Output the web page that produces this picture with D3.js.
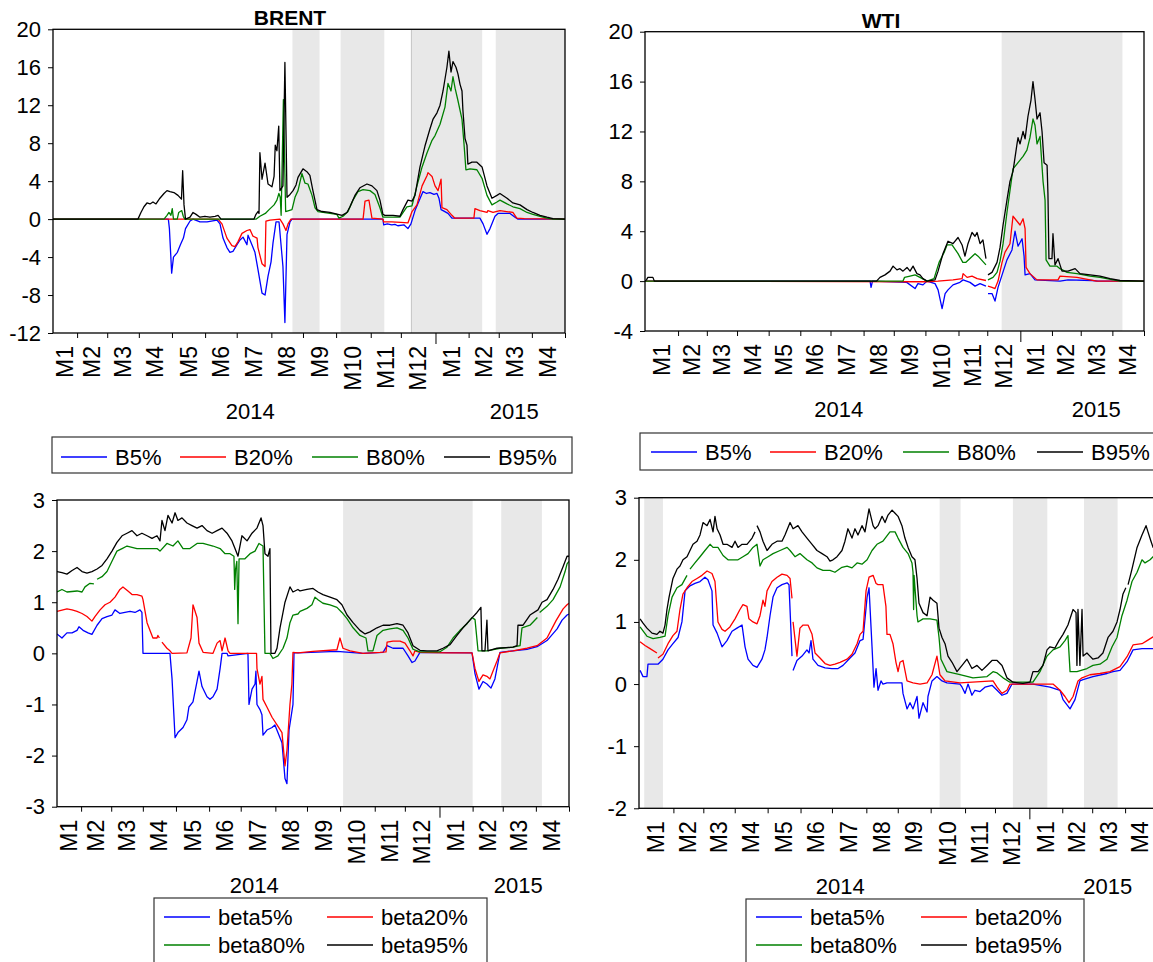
<!DOCTYPE html>
<html>
<head>
<meta charset="utf-8">
<script src="https://cdn.jsdelivr.net/npm/d3@7"></script>
<style>
  body { margin: 0; background: #fff; }
  svg { display: block; font-family: "Liberation Sans", Arial, sans-serif; }
</style>
</head>
<body>
<svg id="chart" width="1153" height="962"></svg>
<script>
// ---------------------------------------------------------------
// Time axis: trading-day index counted from 1 Jan 2014.
// Trading days per month, Jan 2014 .. Apr 2015.
const monthDays = [23, 20, 21, 22, 22, 21, 23, 21, 22, 23, 20, 23, 22, 20, 22, 22];
const monthLabels = ["M1","M2","M3","M4","M5","M6","M7","M8","M9","M10","M11","M12","M1","M2","M3","M4"];
const yearLabels = ["2014", "2015"];

const quantileNames = ["B5%", "B20%", "B80%", "B95%"];
const betaNames = ["beta5%", "beta20%", "beta80%", "beta95%"];
const seriesColors = ["#0000ff", "#ff0000", "#008000", "#000000"];

const brentTopTicks = [20, 16, 12, 8, 4, 0, -4, -8, -12];
const wtiTopTicks = [20, 16, 12, 8, 4, 0, -4];
const brentBetaTicks = [3, 2, 1, 0, -1, -2, -3];
const wtiBetaTicks = [3, 2, 1, 0, -1, -2];

// Shaded regimes, [from day, to day]
const brentTopBands = [[166, 184], [198, 227], [245, 292], [301, 347]];
const wtiTopBands = [[248, 332]];
const brentBetaBands = [[197, 283], [302, 329]];
const wtiBetaBands = [[3.5, 16], [201, 215], [250, 273], [297.5, 320]];

// ---------------- BRENT quantile bounds: [day, value] ----------------
const brentB5 = [[7,0],[83.6,0],[84.3,-1],[85.8,-5.7],[87,-4.0],[89.6,-3.5],[91.6,-2.7],[93.6,-2.0],[95,-1.0],[98,-0.2],[100,0],[104.6,-0.3],[109.3,-0.3],[115.9,-0.1],[117.9,-0.5],[119.9,-2.0],[122.5,-3.0],[124.5,-3.5],[126.5,-3.4],[129.2,-2.7],[131.2,-2.2],[133.2,-1.9],[135.8,-2.7],[136.5,-1.7],[139.1,-2.7],[141.1,-3.5],[143.1,-5.3],[145.8,-7.8],[147.8,-8.0],[149.8,-6.0],[151.8,-4.5],[153.1,-2.5],[155.1,-0.3],[157.1,-0.3],[159.7,-5.0],[161,-10.9],[162.4,-1.6],[164.4,-0.3],[165.7,0],[226.1,0],[226.6,-0.6],[229,-0.5],[232,-0.6],[234,-0.55],[236,-0.7],[240,-0.6],[242.7,-1.0],[244.7,-0.5],[247.4,0.9],[252.7,2.9],[255,2.7],[257.3,2.8],[260,2.6],[262,2.7],[263.3,2.2],[264.7,1.0],[266,0.9],[269.3,0.6],[271.9,0.1],[290.5,0.1],[292.6,-0.5],[295.2,-1.6],[297.2,-1.0],[300.5,0.3],[302.5,0.6],[310.5,0.6],[313.8,0.2],[315.8,0],[347,0]];
const brentB20 = [[7,0],[116.6,0],[119.2,-0.5],[122.5,-2.0],[125.8,-2.8],[127.8,-2.9],[129.8,-2.4],[132.5,-1.5],[135.8,-1.2],[137.8,-1.1],[139.8,-1.8],[142.5,-2.0],[143.1,-3.0],[145.8,-4.7],[147.8,-5.0],[148.4,-0.2],[151.1,-0.1],[157.7,0],[159.7,-0.5],[161.7,-1.2],[163.1,-0.5],[165,0],[212.9,0],[214.2,1.9],[216.8,2.0],[218.8,0.1],[226.1,0],[226.6,-0.3],[232,-0.3],[238,-0.35],[242.7,-0.4],[245.4,0.8],[248.7,1.5],[252.1,3.5],[255.4,4.6],[256,4.9],[258.7,4.5],[260.7,3.5],[262.7,3.0],[264.7,4.2],[265.3,1.2],[268.6,1.0],[271.9,0.4],[273.9,0.1],[286.5,0.1],[287.2,1.1],[290.5,0.9],[295.2,0.7],[295.8,0.9],[299.2,0.7],[303.8,0.9],[312.4,0.7],[315,0.1],[320,0.05],[347,0]];
const brentB80 = [[7,0],[80.7,0],[82.7,0.4],[84,0.7],[85.3,0.4],[86.2,1.1],[87,0],[89.5,0],[90.5,0.7],[92.5,0.9],[93.5,0.3],[94.5,0],[142,0],[144.4,0.3],[148,0.6],[150.5,1.0],[153.8,1.5],[155.7,2.0],[157,2.7],[157.9,2.3],[158.5,0.4],[160,12.6],[161.5,0.8],[165.7,1.0],[167.7,2.3],[169.7,3.0],[172.3,4.8],[174.3,3.8],[176.3,3.7],[179,2.5],[181,1.2],[183,0.8],[190.9,0.6],[195.5,0.5],[196.9,0.1],[199.6,0.3],[202.9,0.8],[206.2,2.0],[209.5,2.9],[212.9,3.1],[217.5,3.0],[220.8,2.6],[224.1,1.2],[226.1,0.2],[237.4,0.2],[242,1.3],[245.4,1.4],[248.7,3.5],[252.1,5.5],[255.4,7.0],[258.7,8.3],[260.7,8.8],[264,10.0],[267.3,11.8],[269.3,14.3],[271.3,13.5],[272.6,15.0],[274,13.8],[275.9,12.5],[278.6,10.5],[279.9,8.0],[281.2,5.2],[283.9,5.3],[288.5,5.2],[291.9,4.3],[295.2,2.5],[298.5,1.5],[301.8,1.8],[303.8,2.0],[308.5,1.6],[312.4,1.3],[317.1,1.1],[321.8,0.7],[325.7,0.5],[330.4,0.3],[335,0.1],[339,0],[347,0]];
const brentB95 = [[7,0],[63.4,0],[65.4,0.7],[67.4,1.3],[69.4,1.7],[71.4,1.6],[73.4,1.8],[75.4,1.6],[78,2.2],[80.7,2.7],[82.7,3.0],[84.7,2.9],[87.3,2.8],[90,2.5],[92.3,2.1],[93.1,5.1],[94,1.5],[95,0],[98,0.2],[100,0.7],[102,0.5],[104.6,0.2],[107.9,0.3],[111.2,0.2],[114.6,0.3],[116.6,0.4],[118.6,0],[140.5,0],[141.8,0.5],[143.1,0.8],[143.8,0.6],[144.4,7.0],[145.8,4.2],[147.8,5.9],[149.8,3.7],[152.4,3.4],[153.8,4.5],[154.6,7.8],[155.7,7.2],[156.9,9.8],[157.7,3.0],[159.7,3.5],[161,16.5],[162.4,2.3],[164.4,2.6],[166.4,3.0],[168.4,3.6],[169.7,4.4],[173,5.3],[175.6,5.0],[177.6,4.6],[179.6,3.0],[182.3,1.0],[185.6,0.8],[190.9,0.7],[196.2,0.5],[198.9,0.4],[202.2,0.7],[204.2,1.3],[207.5,2.5],[210.8,3.3],[215.5,3.7],[218.8,3.5],[222.1,3.0],[224.1,2.0],[226.1,0.5],[227.4,0.4],[232.8,0.4],[237.4,0.3],[239.4,1.0],[242.7,2.0],[245.4,1.9],[247.4,2.5],[250.7,5.5],[254,7.7],[257.3,9.5],[259.3,10.5],[262,11.2],[264,12],[266,13.5],[268.6,16],[269.9,17.7],[271.3,15.5],[272.6,16.6],[274.6,16.0],[275.9,15.3],[277.3,14.2],[278.6,13.5],[279.2,11.5],[280.6,8.5],[281.9,7.8],[282.5,5.8],[285.2,6.0],[288.5,6.0],[291.9,5.5],[295.2,3.5],[298.5,2.2],[301.8,2.5],[303.8,2.7],[308.5,2.2],[312.4,1.7],[317.1,1.5],[321.8,1.0],[325.7,0.7],[330.4,0.4],[335,0.2],[339,0.05],[347,0]];

// ---------------- WTI quantile bounds ----------------
const wtiB5 = [[0,0],[156.5,0],[157.2,-0.5],[158.2,0],[182,-0.1],[187.8,-0.6],[189.8,-0.2],[193.3,-0.3],[196.1,0],[201.7,-0.2],[203.8,-0.7],[206.6,-2.2],[208.7,-1.0],[210.7,-0.7],[214.2,-0.3],[219,-0.1],[221.2,0.1],[226,-0.1],[229.5,-0.4],[233,-0.2],[237.1,-0.4],null,[238.5,-1.0],[241.3,-1.0],[243.4,-1.6],[245.5,-0.5],[248.3,0.5],[251.7,1.7],[255.2,2.5],[257.3,4.0],[259.4,2.8],[262.2,3.4],[263.6,2.0],[264.3,0.5],[267.7,0.6],[271.2,0.1],[288.6,0],[294.2,0.1],[310.9,0.05],[315,0],[347,0]];
const wtiB20 = [[0,0],[196,-0.05],[203.7,0],[214.2,0.1],[220.5,0.2],[221.2,0.6],[224,0.3],[227.4,0.4],[231,0.2],[237.1,0.05],null,[238.5,-0.4],[241.3,-0.5],[243.4,-0.6],[245.5,0],[248.3,1.5],[250.3,2.3],[253.8,3.0],[255.9,5.2],[258.7,4.8],[260.8,4.5],[262.9,5.0],[264.3,4.2],[265,1.1],[267.7,0.6],[272.6,0.1],[287.2,0.1],[288.6,0.4],[300.4,0.3],[309.5,0.1],[314,0],[347,0]];
const wtiB80 = [[0,0],[179.4,0],[180.5,0.3],[184.3,0.4],[187.8,0.5],[191.2,0.3],[196.1,0],[201,0.2],[204.5,1.5],[208,2.3],[210,2.9],[213.5,2.9],[217.7,2.2],[221,1.5],[223,1.5],[226.7,1.9],[229.5,2.2],[231.6,2.0],[237.1,1.3],null,[238.5,0.1],[242,0.3],[244.8,0.7],[246.9,1.6],[249,3.0],[251.7,5.5],[255.9,9.0],[259.4,9.5],[262.9,10.0],[265.6,10.5],[267.7,11.5],[269.8,13.0],[271.2,12.5],[272.6,11.0],[274.7,11.6],[276.8,8.0],[278.2,6.5],[278.9,1.7],[281.6,1.2],[286.5,1.2],[288.6,1.0],[293.5,0.7],[300.4,0.6],[309.5,0.4],[316.4,0.3],[325.5,0.1],[330.3,0],[347,0]];
const wtiB95 = [[0,0],[1,0.1],[2,0.3],[5.5,0.3],[6.5,0],[161,0],[163.4,0.3],[166.9,0.5],[170.4,0.8],[172.5,1.2],[175.2,0.9],[177.3,1.0],[179.4,0.8],[182.2,1.1],[184.3,0.8],[186.4,1.2],[189.1,0.6],[191.2,0.5],[193.3,0.2],[196.1,0],[201.7,0.1],[203.8,0.8],[207.2,2.2],[210.7,3.2],[214.2,3.0],[217.7,3.5],[220.5,2.9],[222.5,2.0],[224.6,3.0],[227.4,3.9],[229.5,3.6],[230.9,3.9],[233,3.0],[235,3.3],[237.1,1.8],null,[238.5,0.5],[241.3,0.7],[244.8,1.5],[246.9,2.7],[249,4.5],[251.7,6.5],[253.8,8.0],[255.9,8.8],[258.7,11.0],[259.4,11.5],[260.8,11.0],[262.9,12.0],[264.3,11.4],[266.3,13.2],[268.4,14.5],[269.8,16.0],[271.2,14.6],[272.6,13.0],[274.7,13.5],[276.1,12.0],[277.5,9.5],[279.6,9.3],[280.2,7.0],[280.9,1.8],[283,1.8],[283.7,3.8],[285.1,1.3],[287.2,1.8],[290,0.8],[294.2,0.8],[299.1,1.0],[302.5,0.6],[309.5,0.5],[316.4,0.4],[323.4,0.2],[330.3,0.05],[347,0]];

// ---------------- BRENT beta quantiles ----------------
const brentBeta5 = [[7,0.38],[10.3,0.3],[13.6,0.4],[17,0.4],[20.3,0.45],[21.6,0.52],[24.3,0.45],[27.6,0.4],[30.2,0.37],[33.6,0.55],[36.9,0.68],[40.2,0.72],[43.5,0.75],[45.5,0.85],[48.8,0.78],[52.1,0.8],[55.5,0.82],[58.8,0.8],[62.1,0.85],[63.4,0.8],[64.1,0],[82,0],[83.4,-0.5],[85.4,-1.65],[87.3,-1.55],[90.7,-1.45],[93.3,-1.3],[94.6,-1.05],[97.3,-0.95],[100,-0.55],[101.3,-0.35],[103.3,-0.65],[106.6,-0.85],[108.6,-0.9],[110.6,-0.85],[113.3,-0.7],[115.3,-0.3],[116.6,0],[119.9,0],[120.6,-0.05],[133.8,0],[134.5,-1.0],[136.5,-0.7],[138.5,-0.6],[139.1,-0.35],[139.8,-1.0],[141.8,-1.1],[143.1,-1.2],[143.8,-1.6],[146.4,-1.5],[149.8,-1.45],[151.7,-1.4],[153.7,-1.55],[156.4,-1.75],[158.4,-2.45],[159.7,-2.55],[161.1,-1.5],[163.7,-1.0],[164.4,0.01],[167,0.01],[192.9,0.04],[210,0.0],[223.5,0.02],[226.2,0.15],[230.1,0.1],[236.8,0.1],[240.1,-0.05],[242.8,-0.18],[244.7,-0.15],[248,0.02],[282.6,0.01],[284.6,-0.4],[287.2,-0.7],[289.9,-0.55],[292.5,-0.6],[295.2,-0.68],[297.8,-0.5],[301.2,0.02],[309.8,0.05],[319.1,0.08],[325.8,0.13],[332.4,0.25],[339.1,0.48],[342.4,0.65],[345.7,0.75],[347,0.77]];
const brentBeta20 = [[7,0.82],[13.6,0.87],[17,0.85],[20.3,0.82],[23.6,0.78],[26.9,0.72],[30.2,0.63],[32.2,0.72],[35.6,0.85],[38.9,0.95],[42.2,1.0],[45.5,1.1],[48.8,1.25],[50.8,1.3],[54.1,1.22],[56.8,1.15],[60.1,1.15],[63.4,1.12],[64.1,1.05],[66.8,0.6],[68.7,0.45],[70.7,0.3],[73.4,0.3],[74,0.35],[75,0.3],null,[76.7,0.22],[80,0.1],[82,0.05],[83.4,0],[93.3,0.01],[96,0.3],[97.3,0.95],[100,0.7],[101.3,0.2],[104,0.02],[110.6,0],[113.3,0.2],[115.3,0.25],[116.6,0.05],[118.6,0.3],[120.6,0.05],[121.9,0],[139.5,0],[139.8,-0.3],[141.8,-0.6],[143.1,-0.45],[143.8,-0.9],[146.4,-1.05],[149.8,-1.25],[153.1,-1.4],[156.4,-1.55],[158.4,-2.2],[159.7,-1.9],[161.7,-1.0],[163,-0.6],[163.7,0.02],[167,0.01],[177,0.04],[192.9,0.07],[194.9,0.3],[196.9,0.1],[201.6,0.05],[210.2,0],[221.5,0.02],[225.5,0.03],[226.2,0.22],[230.1,0.24],[234.8,0.24],[238.1,0.2],[241.4,0.05],[243.4,-0.05],[244.7,0.05],[248,0.02],[266,0.01],[282.6,0.01],[284.6,-0.3],[287.2,-0.55],[289.9,-0.42],[292.5,-0.45],[294.5,-0.5],[296.5,-0.35],[299.2,-0.15],[301.2,0.01],[309.8,0.05],[319.1,0.1],[325.8,0.15],[332.4,0.3],[338.4,0.64],[343.1,0.87],[345.7,0.95],[347,0.98]];
const brentBeta80 = [[7,1.2],[10.3,1.25],[13.6,1.2],[20.3,1.22],[23.6,1.2],[25.6,1.3],[28.9,1.37],[31.5,1.36],null,[33.6,1.45],[36.9,1.5],[40.2,1.6],[43.5,1.8],[46.8,2.0],[50.2,2.05],[53.5,2.1],[60.1,2.05],[66.8,2.05],[73.4,2.05],[75.4,2.0],[80,2.15],[84,2.1],[87.3,2.2],[90.7,2.05],[95.3,2.05],[100,2.15],[104,2.15],[110.6,2.1],[115.3,2.05],[118.6,1.95],[121.9,1.95],[124.5,1.9],[125,1.25],[125.6,1.65],[126.4,1.8],[127.2,0.58],[127.9,1.85],[131.8,1.85],[135.2,1.95],[138.5,2.0],[141.1,2.15],[143.8,2.1],[145.1,0],[148.4,0],[150.4,-0.1],[153.7,-0.05],[157.1,0.1],[159.7,0.3],[161.7,0.6],[163.7,0.75],[167,0.77],[168.4,0.82],[173,0.88],[176.3,0.95],[178.3,1.1],[180.3,1.05],[183.6,0.98],[188.3,0.95],[192.9,0.9],[196.2,0.8],[199.6,0.68],[203.6,0.5],[208.2,0.35],[212.2,0.3],[213.5,0.05],[216.8,0.05],[219.5,0.35],[223.5,0.45],[228.1,0.48],[232.8,0.5],[236.8,0.45],[240.1,0.3],[243.4,0.08],[248,0.03],[261.3,0.03],[266,0.12],[270,0.3],[274.6,0.45],[279.3,0.58],[282.6,0.7],[284.6,0.66],[286.6,0.05],[292.5,0.05],[301.2,0.1],[309.8,0.12],[314.5,0.15],[315.8,0.5],[321.1,0.55],[326,0.7],null,[327.5,0.8],[332.4,0.92],[336.4,1.05],[341.1,1.3],[344.4,1.6],[345.7,1.75],[347,1.8]];
const brentBeta95 = [[7,1.6],[10.3,1.58],[13.6,1.55],[17,1.62],[20.3,1.68],[23.6,1.6],[26.9,1.57],[30.2,1.6],[33.6,1.65],[36.9,1.72],[40.2,1.85],[43.5,2.0],[46.8,2.17],[50.2,2.3],[53.5,2.35],[56.8,2.4],[60.1,2.3],[63.4,2.35],[66.8,2.3],[70.1,2.25],[73.4,2.3],[75.4,2.2],[76.7,2.6],[78.7,2.4],[80.7,2.7],[83.4,2.55],[85.4,2.75],[87.3,2.6],[90,2.65],[93.3,2.55],[96.6,2.5],[100,2.45],[103.3,2.5],[106.6,2.4],[110,2.35],[113.3,2.4],[116.6,2.45],[119.9,2.35],[123.2,2.2],[125.2,2.05],[127.2,1.9],[129.8,2.3],[133.2,2.2],[136.5,2.35],[139.8,2.45],[142.5,2.65],[143.8,2.5],[145.1,1.95],[147.1,1.9],[148.4,2.05],[149.1,0],[151.7,0],[153.1,0.1],[155.1,0.5],[158.4,1.0],[161.7,1.3],[163.7,1.2],[167,1.25],[168.4,1.22],[173,1.25],[177,1.27],[180.3,1.2],[183.6,1.15],[188.3,1.1],[192.9,1.05],[196.2,0.95],[199.6,0.75],[203.6,0.6],[208.2,0.45],[211.6,0.38],[214.9,0.42],[219.5,0.5],[223.5,0.55],[228.1,0.55],[232.8,0.58],[236.8,0.55],[240.1,0.4],[243.4,0.15],[248,0.06],[252.7,0.05],[259.3,0.05],[263.3,0.1],[268,0.17],[272.6,0.35],[276.6,0.5],[281.2,0.65],[285.9,0.8],[288.5,0.9],[289.2,0.05],[291.2,0.05],[292.5,0.65],[293.2,0.05],[299.2,0.1],[309.8,0.12],[312.5,0.15],[313.1,0.55],[316.5,0.55],[321.1,0.75],[326.4,0.85],[329.1,1.0],[332.4,1.05],[336.4,1.25],[339.7,1.45],[343.1,1.7],[345.7,1.9],[347,1.9]];

// ---------------- WTI beta quantiles ----------------
const wtiBeta5 = [[0.7,0.22],[2.7,0.12],[5.3,0.12],[6,0.32],[9.4,0.32],[12.7,0.32],[16,0.4],[19.4,0.55],[22.7,0.65],[26.1,0.75],[28.7,1.0],[30.8,1.5],[34.1,1.58],[37.4,1.62],[40.8,1.65],[44.1,1.72],[46.1,1.68],[48.8,1.5],[49.5,0.95],[52.2,0.82],[55.5,0.6],[58.8,0.7],[62.2,0.85],[65.5,0.9],[68.9,0.95],[70.9,0.6],[72.9,0.4],[76.2,0.3],[78.9,0.27],[82.2,0.4],[84.2,0.55],[85.6,0.75],[87.6,1.1],[89.6,1.4],[92.3,1.55],[95.6,1.6],[99,1.63],[100.3,1.6],[102.3,0.45],null,[103,0.22],[105.6,0.38],[109,0.45],[112.3,0.55],[113.7,0.5],[115,0.7],[116.3,0.4],[119.7,0.3],[124.4,0.26],[129,0.25],[133.1,0.25],[136.4,0.3],[141.1,0.42],[144.4,0.5],[147.8,0.7],[149.8,0.72],[152.5,1.4],[153.8,1.55],[155.8,0.6],[157.1,-0.05],[158.5,0.25],[159.8,-0.1],[161.8,0.05],[163.1,0],[165.8,0.02],[175.8,0.02],[176.5,-0.15],[179.2,-0.4],[181.2,-0.3],[183.2,-0.4],[185.9,-0.2],[187.2,-0.55],[189.9,-0.3],[192.6,-0.45],[193.2,-0.2],[195.9,0.05],[199.2,0.12],[202.6,0.05],[205.9,0.02],[214.6,0],[216,-0.05],[218,-0.15],[220,0],[222.6,-0.18],[224.6,-0.1],[228,-0.12],[231.3,-0.05],[236,-0.02],[239.4,-0.1],[242.7,-0.18],[246,-0.15],[249.4,0],[263.4,0],[274.8,-0.05],[281.5,-0.1],[283.5,-0.25],[288.2,-0.4],[291.5,-0.25],[294.8,0.05],[296.9,0.07],[303.5,0.12],[312.9,0.17],[316.9,0.2],[321.6,0.22],[326.3,0.36],[330.3,0.55],[336.3,0.57],[343.7,0.57],[347,0.58]];
const wtiBeta20 = [[0.7,0.68],[4,0.62],[7.4,0.57],[12,0.5],null,[12.7,0.42],[16,0.48],[19.4,0.65],[22.7,0.78],[25.4,0.85],[27.4,1.2],[29.4,1.45],[32.1,1.55],[35.4,1.65],[38.8,1.7],[42.1,1.75],[45.5,1.82],[48.8,1.78],[50.8,1.65],[52.8,1.0],[55.5,0.88],[57.5,0.85],[60.8,0.92],[64.2,1.05],[67.5,1.2],[69.5,1.28],[72.2,1.25],[73.5,1.05],[76.2,1.0],[78.9,0.97],[80.9,1.1],[82.9,1.35],[84.2,1.25],[85.6,1.5],[88.9,1.65],[92.3,1.72],[95.6,1.77],[99,1.75],[101,1.7],[102.3,1.38],null,[103,1.0],[105.6,0.45],[107.6,0.9],[109.7,0.95],[113,0.95],[115.7,0.8],[117.7,0.5],[121,0.42],[124.4,0.33],[127.7,0.3],[131,0.32],[134.4,0.35],[139.1,0.4],[142.4,0.48],[145.8,0.65],[147.8,0.8],[149.8,0.85],[151.8,1.5],[153.8,1.72],[156.5,1.75],[158.5,1.62],[159.8,1.6],[163.1,1.6],[165.1,1.25],[165.8,0.8],[167.8,0.8],[169.8,0.65],[171.8,0.35],[173.2,0.2],[174.5,0.35],[176.5,0.38],[179.2,0.05],[183.2,0.02],[187.9,0.0],[192.6,0.02],[195.9,0.15],[199.2,0.45],[201.2,0.15],[204.6,0.05],[214.6,0.02],[236.7,0.05],[239.4,-0.05],[242.7,-0.15],[246,-0.1],[248,0],[276.8,0],[281.5,-0.1],[284.8,-0.2],[287.5,-0.3],[290.2,-0.2],[293.5,0.05],[296.2,0.1],[301.5,0.15],[308.2,0.17],[314.9,0.2],[321.6,0.28],[326.3,0.44],[330.3,0.63],[336.3,0.65],[339.7,0.7],[343.7,0.76],[347,0.78]];
const wtiBeta80 = [[0.7,0.92],[5.3,0.77],[9.4,0.73],[14,0.75],[17.4,0.77],[19.4,1.1],[22.1,1.4],[25.4,1.55],[28.7,1.6],[32.1,1.75],null,[34.1,1.85],[37.4,1.95],[40.8,2.05],[44.1,2.15],[47.5,2.25],[49.5,2.2],[52.8,2.2],[56.2,2.07],[59.5,2.0],[62.8,2.0],[66.2,2.0],[69.5,2.05],[72.9,2.1],[76.2,2.2],[78.9,2.25],[80.9,1.9],[82.9,2.0],[86.3,2.05],[89.6,2.1],[94.3,2.15],[99,2.2],[101,2.15],[104.3,2.05],[107.6,2.1],[112.3,2.0],[115.7,1.95],[119,1.87],[123,1.83],[127.7,1.83],[131,1.8],[135.7,1.88],[139.1,1.9],[142.4,1.87],[145.8,1.95],[149.1,1.93],[152.5,2.0],[155.8,2.15],[159.1,2.25],[163.1,2.3],[167.8,2.45],[171.2,2.45],[173.2,2.35],[176.5,2.2],[179.9,2.1],[182.5,1.95],[183.2,1.8],[183.6,1.2],[183.9,1.75],[185.9,1.1],[186.5,1.0],[189.9,1.05],[194.6,1.05],[199.2,1.03],[200.6,0.75],[201.9,0.4],[205.9,0.2],[214.6,0.15],[223.3,0.1],[232.7,0.12],[236.7,0.2],[239.4,0.18],[243.4,0.1],[248,0.03],[263.4,0.03],[268.1,0.2],[272.8,0.45],[276.8,0.55],[281.5,0.6],[284.8,0.7],[286.8,0.78],[288.2,0.2],[292.8,0.2],[299.5,0.25],[303.5,0.3],[308.2,0.32],[312.9,0.4],[316.3,0.6],[319.6,0.75],[322.9,1.1],[326.3,1.35],[329.6,1.65],[333,1.8],[336.3,2.0],[338.3,1.95],[341.7,2.0],[343.7,2.05],[347,2.05]];
const wtiBeta95 = [[0.7,1.05],[2.7,0.98],[5.3,0.9],[8.7,0.82],[12,0.8],[14,0.85],[16,0.82],[17.4,0.95],[18.7,1.2],[20.1,1.4],[22.7,1.7],[25.4,1.85],[27.4,1.9],[29.4,2.0],[32.1,2.05],[34.1,2.15],[36.1,2.25],[38.8,2.3],[40.8,2.4],[42.8,2.6],[45.5,2.55],[47.5,2.65],[49.5,2.45],[50.8,2.7],[52.2,2.5],[54.2,2.4],[56.2,2.25],[58.8,2.25],[62.2,2.2],[64.2,2.3],[66.2,2.2],[68.9,2.25],[72.2,2.25],[75.6,2.35],[77.6,2.45],null,[78.9,2.55],[80.9,2.45],[82.9,2.3],[85.6,2.15],[88.9,2.25],[92.3,2.3],[95.6,2.3],[97.6,2.4],[101,2.6],[103,2.5],[106.3,2.55],[109,2.45],[112.3,2.35],[115.7,2.25],[119,2.15],[122.4,2.1],[125.7,2.05],[127.7,1.98],[129.7,2.0],[132.4,2.05],[135.7,2.15],[137.7,2.3],[139.7,2.5],[142.4,2.35],[144.4,2.5],[146.4,2.4],[149.1,2.55],[151.1,2.45],[153.8,2.82],[156.5,2.55],[157.8,2.5],[159.8,2.55],[162.5,2.7],[164.5,2.6],[166.5,2.72],[169.2,2.8],[171.2,2.75],[173.2,2.7],[175.8,2.55],[177.8,2.35],[179.9,2.2],[182.5,2.05],[184.5,2.0],[185.9,1.7],[187.2,1.3],[189.9,1.15],[192.6,1.1],[194.6,1.4],[196.6,1.35],[199.2,1.3],[200.6,0.9],[202.6,0.75],[204.6,0.65],[206.6,0.45],[209.3,0.35],[212.6,0.2],[216,0.3],[219.3,0.4],[222.6,0.25],[226,0.3],[229.3,0.22],[232.7,0.3],[236,0.38],[239.4,0.38],[242.7,0.3],[246,0.1],[250.1,0.03],[256.7,0.01],[261.4,0.03],[263.4,0.2],[266.8,0.2],[270.1,0.3],[272.8,0.55],[274.8,0.6],[278.1,0.58],[280.8,0.7],[283.5,0.8],[286.8,0.95],[290.2,1.2],[292.2,1.15],[292.8,0.3],[293.5,1.2],[294.8,0.3],[296.2,1.2],[296.9,0.45],[299.5,0.5],[301.5,0.45],[303.5,0.4],[306.9,0.42],[310.2,0.5],[313.6,0.75],[316.9,0.85],[319.6,1.0],[321.6,1.2],[323.6,1.45],[325.5,1.55],null,[327,1.6],[329.6,1.85],[333,2.2],[336.3,2.4],[339,2.55],[340.3,2.45],[342.3,2.3],[343.7,2.2],[347,2.1]];

// ---------------------------------------------------------------
const FONT = "'Liberation Sans', Arial, sans-serif";
const WIDTH = 1153;
const svg = d3.select("#chart");
const monthStart = Array.from(d3.cumsum([0, ...monthDays])); // 0 .. 347
const yearBreak = monthStart[12];

const panels = [
  { id: "brentTop", title: "BRENT", titleX: 290, titleY: 25,
    left: 53, right: 565, top: 29.3, bottom: 333,
    tDomain: [7, 347], yDomain: [-12, 20], yTicks: brentTopTicks, bands: brentTopBands, bandEdge: 245,
    series: [brentB5, brentB20, brentB80, brentB95], names: quantileNames,
    legend: { box: [52, 437, 520, 36], rows: [[0, 1, 2, 3]], cols: [61, 180, 312, 444], rowY: [457] } },
  { id: "wtiTop", title: "WTI", titleX: 881, titleY: 28,
    left: 645, right: 1144, top: 31.7, bottom: 331,
    tDomain: [0, 347], yDomain: [-4, 20], yTicks: wtiTopTicks, bands: wtiTopBands,
    series: [wtiB5, wtiB20, wtiB80, wtiB95], names: quantileNames,
    legend: { box: [640, 433, 530, 37], rows: [[0, 1, 2, 3]], cols: [651, 770, 903, 1037], rowY: [452] } },
  { id: "brentBeta", title: null,
    left: 57, right: 569, top: 500, bottom: 806.7,
    tDomain: [7, 347], yDomain: [-3, 3], yTicks: brentBetaTicks, bands: brentBetaBands,
    series: [brentBeta5, brentBeta20, brentBeta80, brentBeta95], names: betaNames,
    legend: { box: [154, 898, 333, 80], rows: [[0, 1], [2, 3]], cols: [164, 327], rowY: [917, 945] } },
  { id: "wtiBeta", title: null,
    left: 639, right: 1158, top: 497.7, bottom: 808.3,
    tDomain: [0, 347], yDomain: [-2, 3], yTicks: wtiBetaTicks, bands: wtiBetaBands,
    series: [wtiBeta5, wtiBeta20, wtiBeta80, wtiBeta95], names: betaNames,
    legend: { box: [746, 899, 338, 80], rows: [[0, 1], [2, 3]], cols: [756, 921], rowY: [917, 945] } }
];

function drawPanel(p) {
  const g = svg.append("g").attr("class", "panel");
  const x = d3.scaleLinear().domain(p.tDomain).range([p.left, p.right]);
  const y = d3.scaleLinear().domain(p.yDomain).range([p.bottom, p.top]);

  const clipId = "clip-" + p.id;
  svg.append("clipPath").attr("id", clipId).append("rect")
    .attr("x", p.left).attr("y", p.top)
    .attr("width", p.right - p.left).attr("height", p.bottom - p.top);

  const plot = g.append("g").attr("clip-path", `url(#${clipId})`);

  // shaded regimes
  plot.selectAll("rect.band").data(p.bands).join("rect")
    .attr("class", "band")
    .attr("x", d => x(d[0])).attr("width", d => x(d[1]) - x(d[0]))
    .attr("y", p.top).attr("height", p.bottom - p.top)
    .attr("fill", "#e8e8e8");
  if (p.bandEdge !== undefined) {
    plot.append("line")
      .attr("x1", x(p.bandEdge)).attr("x2", x(p.bandEdge))
      .attr("y1", p.top).attr("y2", p.bottom)
      .attr("stroke", "#c4c4c4").attr("stroke-width", 1);
  }

  // quantile lines
  const line = d3.line()
    .defined(d => d !== null)
    .x(d => x(d[0]))
    .y(d => y(d[1]));
  p.series.forEach((s, i) => {
    plot.append("path").datum(s)
      .attr("d", line)
      .attr("fill", "none")
      .attr("stroke", seriesColors[i])
      .attr("stroke-width", 1.3)
      .attr("stroke-linejoin", "round");
  });

  // frame
  g.append("rect")
    .attr("x", p.left).attr("y", p.top)
    .attr("width", p.right - p.left).attr("height", p.bottom - p.top)
    .attr("fill", "none").attr("stroke", "#000").attr("stroke-width", 1.3);

  // y axis
  const ya = g.append("g").attr("transform", `translate(${p.left},0)`)
    .call(d3.axisLeft(y).tickValues(p.yTicks).tickSize(5).tickPadding(7).tickFormat(d => String(d)));
  ya.select(".domain").remove();
  ya.selectAll(".tick line").attr("stroke", "#000");
  ya.selectAll("text").attr("font-size", 22).attr("font-family", FONT).attr("fill", "#000");

  // x axis: ticks at month starts, longer one at the year break
  const ticks = monthStart.filter(t => t > p.tDomain[0] && t <= p.tDomain[1]);
  const xa = g.append("g").attr("transform", `translate(0,${p.bottom})`)
    .call(d3.axisBottom(x).tickValues(ticks).tickSize(5).tickFormat(""));
  xa.select(".domain").remove();
  xa.selectAll(".tick line").attr("stroke", "#000").attr("y2", t => t === yearBreak ? 11 : 5);

  // month labels, rotated, centred in each month (kept inside the page)
  monthLabels.forEach((lab, i) => {
    const a = Math.max(monthStart[i], p.tDomain[0]);
    const b = Math.min(monthStart[i + 1], p.tDomain[1]);
    if (b <= a) return;
    const cx = Math.min(x((a + b) / 2), WIDTH - 13);
    g.append("text")
      .attr("transform", `translate(${cx},${p.bottom + 13}) rotate(-90)`)
      .attr("text-anchor", "end")
      .attr("dominant-baseline", "central")
      .attr("font-size", 23).attr("font-family", FONT).attr("fill", "#000")
      .text(lab);
  });

  // year labels
  const yearSpans = [[p.tDomain[0], yearBreak, 6], [yearBreak, p.tDomain[1], 14]];
  yearLabels.forEach((lab, i) => {
    const [a, b, off] = yearSpans[i];
    g.append("text")
      .attr("x", x((a + b) / 2) + off).attr("y", p.bottom + 86)
      .attr("text-anchor", "middle")
      .attr("font-size", 22).attr("font-family", FONT).attr("fill", "#000")
      .text(lab);
  });

  // title
  if (p.title) {
    g.append("text")
      .attr("x", p.titleX).attr("y", p.titleY)
      .attr("text-anchor", "middle")
      .attr("font-size", 21).attr("font-weight", "bold").attr("font-family", FONT)
      .attr("fill", "#000")
      .text(p.title);
  }

  // legend
  const L = p.legend;
  const lg = g.append("g").attr("class", "legend");
  lg.append("rect")
    .attr("x", L.box[0]).attr("y", L.box[1]).attr("width", L.box[2]).attr("height", L.box[3])
    .attr("fill", "#fff").attr("stroke", "#333").attr("stroke-width", 1.2);
  L.rows.forEach((row, r) => {
    row.forEach((si, c) => {
      const lx = L.cols[c], ly = L.rowY[r];
      lg.append("line")
        .attr("x1", lx).attr("x2", lx + 46).attr("y1", ly).attr("y2", ly)
        .attr("stroke", seriesColors[si]).attr("stroke-width", 1.5);
      lg.append("text")
        .attr("x", lx + 54).attr("y", ly)
        .attr("dominant-baseline", "central")
        .attr("font-size", 22).attr("font-family", FONT).attr("fill", "#000")
        .text(p.names[si]);
    });
  });
}

panels.forEach(drawPanel);
</script>
</body>
</html>
